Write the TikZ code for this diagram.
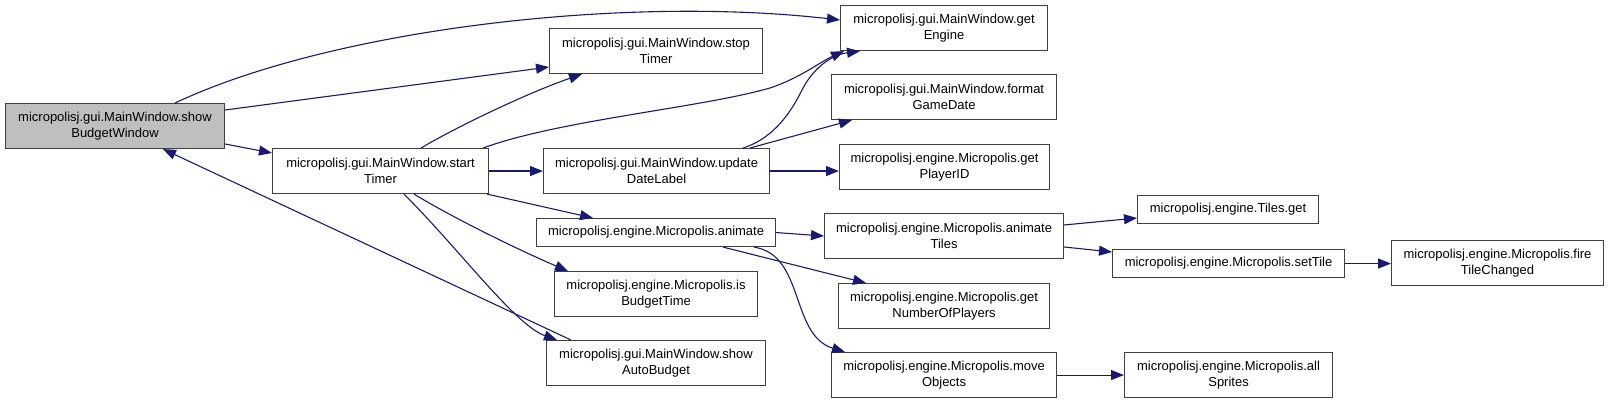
\documentclass[tikz,border=0pt]{standalone}
\usepackage{fontspec}
\setmainfont{Liberation Sans}
\usetikzlibrary{arrows.meta}
\definecolor{edgeblue}{HTML}{191970}
\definecolor{boxline}{HTML}{404040}
\tikzset{
  box/.style={draw=boxline, line width=1.1pt, fill=white, inner sep=0pt, align=center,
    anchor=north west, font=\fontsize{13}{16.5}\selectfont, minimum height=45pt},
  onebox/.style={box, minimum height=28pt},
  edge/.style={draw=edgeblue, line width=1.1pt, -{Triangle[length=13pt,width=10pt]}}
}
\begin{document}
\begin{tikzpicture}[x=1pt,y=-1pt]
\useasboundingbox (0,0) rectangle (1608,403);
% nodes
\node[box, fill={rgb,255:red,191;green,191;blue,191}, minimum width=219pt] (sbw) at (5,103) {micropolisj.gui.MainWindow.show\\BudgetWindow};
\node[box, minimum width=216pt] (st) at (272,148) {micropolisj.gui.MainWindow.start\\Timer};
\node[box, minimum width=213pt] (stop) at (549,28) {micropolisj.gui.MainWindow.stop\\Timer};
\node[box, minimum width=207pt] (ge) at (840,5) {micropolisj.gui.MainWindow.get\\Engine};
\node[box, minimum width=225pt] (fgd) at (831,74) {micropolisj.gui.MainWindow.format\\GameDate};
\node[box, minimum width=210pt] (gpid) at (839,144) {micropolisj.engine.Micropolis.get\\PlayerID};
\node[box, minimum width=226pt] (udl) at (543,148) {micropolisj.gui.MainWindow.update\\DateLabel};
\node[onebox, minimum width=239pt] (anim) at (536,218) {micropolisj.engine.Micropolis.animate};
\node[box, minimum width=203pt] (ibt) at (554,271) {micropolisj.engine.Micropolis.is\\BudgetTime};
\node[box, minimum width=219pt] (sab) at (546,340) {micropolisj.gui.MainWindow.show\\AutoBudget};
\node[box, minimum width=239pt] (at) at (824,213) {micropolisj.engine.Micropolis.animate\\Tiles};
\node[box, minimum width=211pt] (gnp) at (838,283) {micropolisj.engine.Micropolis.get\\NumberOfPlayers};
\node[box, minimum width=225pt] (mo) at (831,352) {micropolisj.engine.Micropolis.move\\Objects};
\node[onebox, minimum width=181pt] (tg) at (1137,195) {micropolisj.engine.Tiles.get};
\node[onebox, minimum width=232pt] (stl) at (1112,249) {micropolisj.engine.Micropolis.setTile};
\node[box, minimum width=212pt] (ftc) at (1391,240) {micropolisj.engine.Micropolis.fire\\TileChanged};
\node[box, minimum width=208pt] (as) at (1124,352) {micropolisj.engine.Micropolis.all\\Sprites};
% edges
\draw[edge] ([xshift=170pt]sbw.north west) .. controls (330,30) and (620,-5) .. ([yshift=-15pt]ge.north west);
\draw[edge] ([yshift=-7pt]sbw.north east) -- ([yshift=-39pt]stop.north west);
\draw[edge] ([yshift=-41pt]sbw.north east) -- ([yshift=-5pt]st.north west);
\draw[edge] ([xshift=25pt]sab.north west) -- ([xshift=158pt]sbw.south west);
\draw[edge] ([xshift=149pt]st.north west) .. controls (460,125) and (530,92) .. ([xshift=33pt]stop.south west);
\draw[edge] ([xshift=-6pt]st.north east) .. controls (560,120) and (700,108) .. (770,88) .. controls (800,78) and (820,62) .. ([xshift=4pt]ge.south west);
\draw[edge] ([xshift=200pt]udl.north west) .. controls (775,138) and (792,110) .. (802,90) .. controls (812,70) and (830,55) .. ([xshift=20pt]ge.south west);
\draw[edge] ([xshift=207pt]udl.north west) -- ([xshift=21pt]fgd.south west);
\draw[edge] (udl.east) -- (udl.east -| gpid.west);
\draw[edge] (st.east) -- (udl.west);
\draw[edge] ([xshift=-2pt]st.south east) -- ([xshift=57pt]anim.north west);
\draw[edge] ([xshift=142pt]st.south west) .. controls (460,222) and (530,255) .. ([xshift=14pt]ibt.north west);
\draw[edge] ([xshift=132pt]st.south west) .. controls (460,250) and (515,325) .. ([xshift=11pt]sab.north west);
\draw[edge] (anim.east) -- (at.west);
\draw[edge] ([xshift=187pt]anim.south west) -- ([xshift=28pt]gnp.north west);
\draw[edge] ([xshift=218pt]anim.south west) .. controls (805,255) and (790,335) .. ([xshift=14pt]mo.north west);
\draw[edge] ([yshift=-12pt]at.north east) -- ([yshift=-23pt]tg.north west);
\draw[edge] ([yshift=-34pt]at.north east) -- ([yshift=-3pt]stl.north west);
\draw[edge] (stl.east) -- (stl.east -| ftc.west);
\draw[edge] (mo.east) -- (as.west);
\end{tikzpicture}
\end{document}
